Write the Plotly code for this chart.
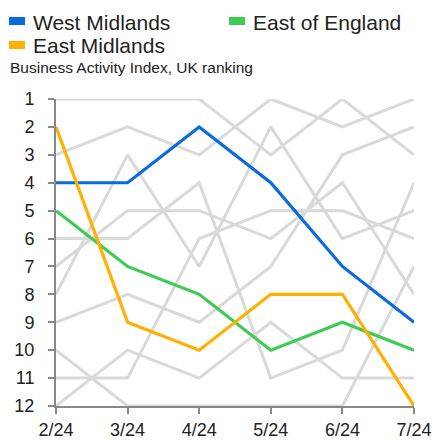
import plotly.graph_objects as go

months = ["2/24", "3/24", "4/24", "5/24", "6/24", "7/24"]

# Highlighted regions (UK ranking, 1 = best)
west_midlands = [4, 4, 2, 4, 7, 9]
east_of_england = [5, 7, 8, 10, 9, 10]
east_midlands = [2, 9, 10, 8, 8, 12]

# Other regions (grey)
london = [1, 1, 1, 3, 1, 3]
south_east = [3, 2, 3, 1, 2, 1]
south_west = [6, 6, 4, 11, 10, 4]
north_west = [7, 5, 5, 6, 4, 8]
scotland = [8, 3, 7, 2, 6, 5]
wales = [9, 8, 9, 7, 3, 2]
northern_ireland = [10, 12, 12, 12, 12, 7]
yorkshire = [11, 11, 6, 5, 5, 6]
north_east = [12, 10, 11, 9, 11, 11]

grey_series = {
    "London": london, "South East": south_east, "South West": south_west,
    "North West": north_west, "Scotland": scotland, "Wales": wales,
    "Northern Ireland": northern_ireland, "Yorkshire & Humber": yorkshire,
    "North East": north_east,
}
highlight = [
    ("East of England", east_of_england, "#3DCC52"),
    ("West Midlands", west_midlands, "#0A6BE0"),
    ("East Midlands", east_midlands, "#FFB000"),
]

rank_ticks = list(range(1, 13))

W, H = 435, 441
L, R, T, B = 56, 21, 99, 35
PW, PH = W - L - R, H - T - B


def px(x):
    return (x - L) / PW


def py(y):
    return (H - B - y) / PH


fig = go.Figure()
for name, vals in grey_series.items():
    fig.add_trace(go.Scatter(x=months, y=vals, mode="lines", name=name,
                             line=dict(color="#D9D9D9", width=3),
                             cliponaxis=False, showlegend=False,
                             hoverinfo="name+y"))
for name, vals, col in highlight:
    fig.add_trace(go.Scatter(x=months, y=vals, mode="lines", name=name,
                             line=dict(color=col, width=3.2),
                             cliponaxis=False, showlegend=False))

# Legend built as swatches + text
legend_items = [("West Midlands", "#0A6BE0", 9, 21),
                ("East of England", "#3DCC52", 229, 21),
                ("East Midlands", "#FFB000", 9, 45)]
for name, col, x0, yc in legend_items:
    fig.add_shape(type="rect", xref="paper", yref="paper",
                  x0=px(x0), x1=px(x0 + 16), y0=py(yc + 4), y1=py(yc - 4),
                  fillcolor=col, line=dict(width=0))
    fig.add_annotation(xref="paper", yref="paper", x=px(x0 + 22), y=py(yc + 1),
                       text=name, showarrow=False, xanchor="left", yanchor="middle",
                       font=dict(family="Liberation Sans, Arial", size=21, color="#222"))
fig.add_annotation(xref="paper", yref="paper", x=px(8), y=py(68),
                   text="Business Activity Index, UK ranking",
                   showarrow=False, xanchor="left", yanchor="middle",
                   font=dict(family="Liberation Sans, Arial", size=15.5, color="#222"))

fig.update_layout(
    width=W, height=H,
    margin=dict(l=L, r=R, t=T, b=B, autoexpand=False),
    paper_bgcolor="white", plot_bgcolor="white",
    showlegend=False,
    xaxis=dict(type="category", range=[0, 5], showgrid=False, zeroline=False,
               showline=True, linecolor="#888888", linewidth=2,
               ticks="outside", ticklen=6, tickwidth=2, tickcolor="#888888",
               tickfont=dict(family="Liberation Sans, Arial", size=18, color="#222"),
               layer="below traces"),
    yaxis=dict(range=[12, 1], tickvals=rank_ticks, showgrid=False, zeroline=False,
               showline=True, linecolor="#888888", linewidth=2,
               ticks="outside", ticklen=6, tickwidth=2, tickcolor="#888888",
               ticklabelstandoff=10,
               tickfont=dict(family="Liberation Sans, Arial", size=18, color="#222"),
               layer="below traces"),
)

fig.write_html("out.html", config={"displayModeBar": False},
               post_script="document.body.style.margin='0';document.body.style.overflow='hidden';")
